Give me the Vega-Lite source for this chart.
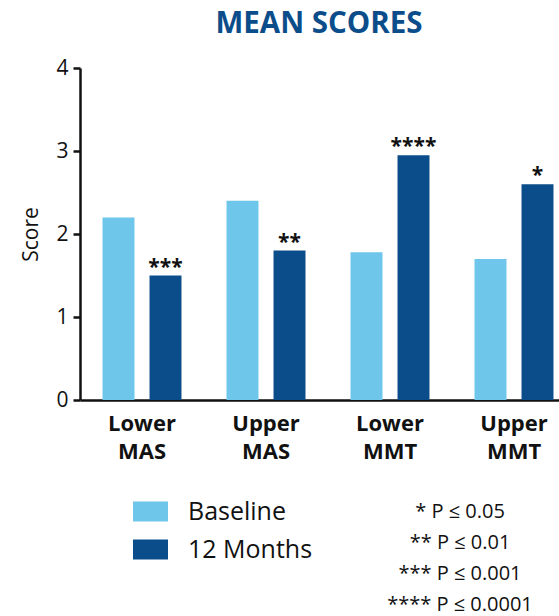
{
  "$schema": "https://vega.github.io/schema/vega-lite/v6.json",
  "autosize": {"type": "none"},
  "padding": {"left": 80, "top": 68, "right": 0, "bottom": 216},
  "width": 496,
  "height": 332,
  "title": {
    "text": "MEAN SCORES",
    "font": "Open Sans",
    "fontSize": 29.5,
    "fontWeight": "bold",
    "color": "#0B4D8A",
    "anchor": "middle",
    "dx": -9,
    "offset": 18
  },
  "data": {
    "values": [
      {"group": "Lower MAS", "period": "Baseline", "score": 2.2},
      {"group": "Lower MAS", "period": "12 Months", "score": 1.5, "stars": "***", "note": "*** P ≤ 0.001"},
      {"group": "Upper MAS", "period": "Baseline", "score": 2.4},
      {"group": "Upper MAS", "period": "12 Months", "score": 1.8, "stars": "**", "note": "** P ≤ 0.01"},
      {"group": "Lower MMT", "period": "Baseline", "score": 1.78},
      {"group": "Lower MMT", "period": "12 Months", "score": 2.95, "stars": "****", "note": "**** P ≤ 0.0001"},
      {"group": "Upper MMT", "period": "Baseline", "score": 1.7},
      {"group": "Upper MMT", "period": "12 Months", "score": 2.6, "stars": "*", "note": "* P ≤ 0.05"}
    ]
  },
  "encoding": {
    "x": {
      "field": "group",
      "type": "nominal",
      "sort": ["Lower MAS", "Upper MAS", "Lower MMT", "Upper MMT"],
      "scale": {"paddingInner": 0, "paddingOuter": 0},
      "axis": {
        "title": null,
        "labelAngle": 0,
        "labelExpr": "split(datum.label, ' ')",
        "labelFont": "Open Sans",
        "labelFontSize": 22,
        "labelFontWeight": "bold",
        "labelColor": "#111111",
        "labelLineHeight": 28,
        "labelPadding": 13,
        "labelBaseline": "top",
        "ticks": false,
        "domainColor": "#111111",
        "domainWidth": 2.5
      }
    },
    "xOffset": {
      "field": "period",
      "type": "nominal",
      "sort": ["Baseline", "12 Months"],
      "scale": {"paddingInner": 0.32, "paddingOuter": 0.479}
    },
    "y": {
      "field": "score",
      "type": "quantitative",
      "scale": {"domain": [0, 4], "nice": false},
      "axis": {
        "title": "Score",
        "titleFont": "Open Sans",
        "titleFontSize": 21,
        "titleFontWeight": "normal",
        "titleColor": "#111111",
        "titlePadding": 14,
        "values": [0, 1, 2, 3, 4],
        "format": "d",
        "grid": false,
        "labelFont": "Open Sans",
        "labelFontSize": 21,
        "labelColor": "#111111",
        "labelPadding": 5,
        "tickSize": 7,
        "tickWidth": 2.5,
        "tickColor": "#111111",
        "domainColor": "#111111",
        "domainWidth": 2.5
      }
    }
  },
  "layer": [
    {
      "mark": {"type": "bar"},
      "encoding": {
        "color": {
          "field": "period",
          "type": "nominal",
          "sort": ["Baseline", "12 Months"],
          "scale": {"domain": ["Baseline", "12 Months"], "range": ["#6EC6EA", "#0B4D8A"]},
          "legend": {
            "title": null,
            "orient": "none",
            "legendX": 53,
            "legendY": 426,
            "padding": 0,
            "symbolType": "M-1,-0.57H1V0.57H-1Z",
            "symbolSize": 1225,
            "symbolStrokeWidth": 0,
            "labelFont": "Open Sans",
            "labelFontSize": 25,
            "labelColor": "#111111",
            "labelOffset": 20,
            "rowPadding": 7
          }
        }
      }
    },
    {
      "transform": [{"filter": "datum.period === '12 Months'"}],
      "mark": {"type": "text", "font": "Open Sans", "fontSize": 21, "fontWeight": "bold", "color": "#111111", "baseline": "bottom", "dy": 2},
      "encoding": {
        "text": {"field": "stars"},
        "opacity": {
          "field": "note",
          "type": "ordinal",
          "sort": ["* P ≤ 0.05", "** P ≤ 0.01", "*** P ≤ 0.001", "**** P ≤ 0.0001"],
          "scale": {"range": [1, 1]},
          "legend": {
            "title": null,
            "orient": "none",
            "legendX": 360,
            "legendY": 434,
            "padding": 0,
            "symbolSize": 0,
            "symbolStrokeWidth": 0,
            "symbolFillColor": "transparent",
            "labelFont": "Open Sans",
            "labelFontSize": 20,
            "labelColor": "#111111",
            "labelAlign": "center",
            "labelOffset": 0,
            "rowPadding": 11
          }
        }
      }
    }
  ],
  "config": {
    "view": {"stroke": null}
  }
}
